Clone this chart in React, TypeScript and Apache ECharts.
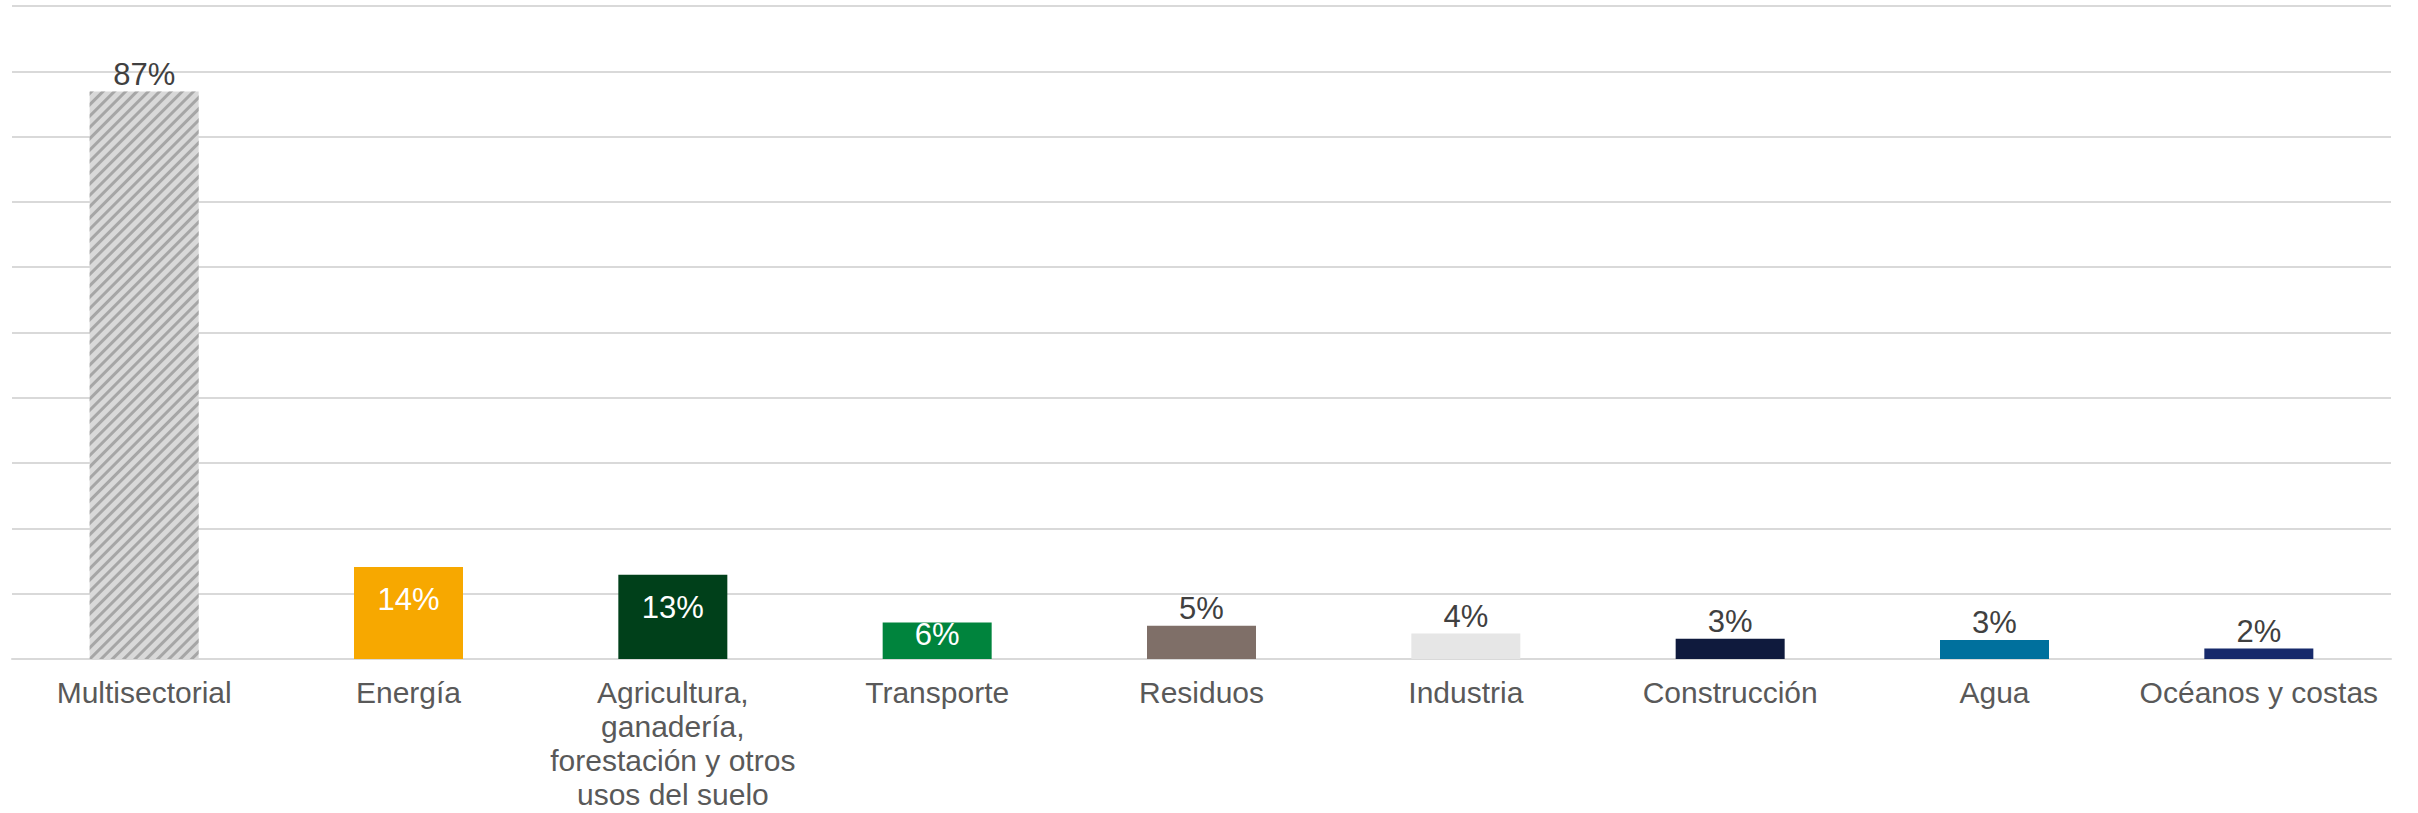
import React, { useEffect, useRef } from "react";
import * as echarts from "echarts";

const categories = [
  "Multisectorial",
  "Energía",
  "Agricultura,\nganadería,\nforestación y otros\nusos del suelo",
  "Transporte",
  "Residuos",
  "Industria",
  "Construcción",
  "Agua",
  "Océanos y costas",
];
const values = [86.9, 14.1, 12.9, 5.6, 5.1, 3.9, 3.1, 2.9, 1.6];
const barColors = [
  "#d9d9d9",
  "#f7a800",
  "#00401a",
  "#00843d",
  "#7f6f68",
  "#e6e6e6",
  "#0f1a3d",
  "#00709d",
  "#172a6b",
];
// label placement per bar: "top" above, "insideTop" white inside, "inside" white centred
const labelModes = ["top", "insideTop", "insideTop", "inside", "top", "top", "top", "top", "top"];

export default function App() {
  const ref = useRef<HTMLDivElement>(null);
  useEffect(() => {
    if (!ref.current) return;
    const chart = echarts.init(ref.current, undefined, { renderer: "svg" });
    const font = "Liberation Sans, Arial, sans-serif";
    const data = values.map((v, i) => {
      const mode = labelModes[i];
      const item: any = {
        value: v,
        itemStyle: { color: barColors[i] },
      };
      if (i === 0) {
        item.itemStyle.decal = {
          symbol: "rect",
          color: "#a6a6a6",
          backgroundColor: "#d9d9d9",
          dashArrayX: [1, 0],
          dashArrayY: [3, 5],
          symbolSize: 1,
          rotation: -Math.PI / 4,
        };
      }
      if (mode === "insideTop") {
        item.label = { position: "insideTop", distance: 17, color: "#ffffff" };
      } else if (mode === "inside") {
        item.label = { position: "inside", offset: [0, -6], color: "#ffffff" };
      }
      return item;
    });
    chart.setOption({
      animation: false,
      backgroundColor: "#ffffff",
      textStyle: { fontFamily: font },
      grid: { left: 12, right: 27, top: 6, bottom: 154, containLabel: false },
      xAxis: {
        type: "category",
        data: categories,
        axisLine: { lineStyle: { color: "#d9d9d9", width: 2 } },
        axisTick: { show: false },
        axisLabel: {
          interval: 0,
          color: "#595959",
          fontSize: 30,
          lineHeight: 34,
          margin: 16,
          fontFamily: font,
        },
      },
      yAxis: {
        type: "value",
        min: 0,
        max: 100,
        interval: 10,
        axisLabel: { show: false },
        axisLine: { show: false },
        axisTick: { show: false },
        splitLine: { lineStyle: { color: "#d9d9d9", width: 2 } },
      },
      series: [
        {
          type: "bar",
          data,
          barWidth: 109,
          label: {
            show: true,
            position: "top",
            distance: 2,
            fontSize: 31,
            lineHeight: 31,
            color: "#404040",
            fontFamily: font,
            formatter: (p: any) => Math.round(p.value) + "%",
          },
        },
      ],
    });
    return () => chart.dispose();
  }, []);
  return (
    <div
      ref={ref}
      style={{ position: "absolute", left: 0, top: 0, width: 2418, height: 813 }}
    />
  );
}
